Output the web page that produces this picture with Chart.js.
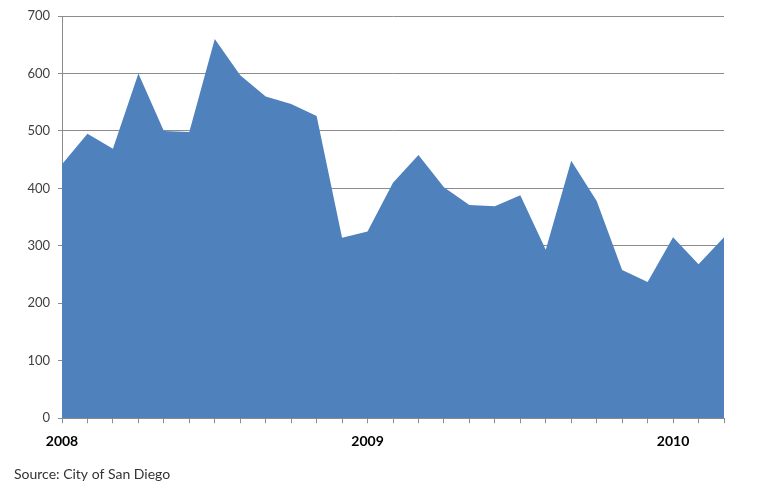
<!DOCTYPE html>
<html>
<head>
<meta charset="utf-8">
<script src="https://cdn.jsdelivr.net/npm/chart.js@4"></script>
<style>
  html, body { margin: 0; padding: 0; background: #fff; }
  #wrap { width: 760px; height: 491px; }
</style>
</head>
<body>
<div id="wrap"><canvas id="chart"></canvas></div>
<script>
// monthly values, Jan 2008 .. Mar 2010
const months = [
  "Jan 2008", "Feb 2008", "Mar 2008", "Apr 2008", "May 2008", "Jun 2008",
  "Jul 2008", "Aug 2008", "Sep 2008", "Oct 2008", "Nov 2008", "Dec 2008",
  "Jan 2009", "Feb 2009", "Mar 2009", "Apr 2009", "May 2009", "Jun 2009",
  "Jul 2009", "Aug 2009", "Sep 2009", "Oct 2009", "Nov 2009", "Dec 2009",
  "Jan 2010", "Feb 2010", "Mar 2010"
];
const values = [
  442, 495, 469, 600, 500, 498, 660, 597, 560, 547, 526, 314,
  325, 410, 458, 402, 371, 369, 388, 293, 448, 378, 258, 237,
  315, 268, 315
];
const yearLabels = ["2008", "2009", "2010"];
const yTicks = [0, 100, 200, 300, 400, 500, 600, 700];

const gridGray = "#8c8c8c";

new Chart(document.getElementById("chart"), {
  type: "line",
  data: {
    labels: months,
    datasets: [{
      data: values,
      backgroundColor: "#4f81bd",
      borderWidth: 0,
      pointRadius: 0,
      tension: 0,
      fill: "origin"
    }]
  },
  options: {
    responsive: true,
    maintainAspectRatio: false,
    animation: false,
    layout: { padding: { top: 16, right: 36, bottom: 8, left: 14 } },
    plugins: {
      legend: { display: false },
      tooltip: { enabled: false },
      title: {
        display: true,
        position: "bottom",
        align: "start",
        text: "Source: City of San Diego",
        color: "#333",
        font: { family: "Lato", size: 14, weight: "normal" },
        padding: { top: 0, bottom: 0 }
      }
    },
    scales: {
      x: {
        type: "category",
        offset: false,
        grid: { drawOnChartArea: false, color: gridGray, tickLength: 5 },
        border: { color: gridGray },
        ticks: {
          autoSkip: false,
          maxRotation: 0,
          padding: 10,
          color: "#000",
          font: { family: "Lato", size: 14, weight: "bold" },
          // only January gets a label: its year
          callback: function (v, i) {
            const year = months[i].slice(4);
            return months[i].startsWith("Jan") && yearLabels.includes(year) ? year : "";
          }
        },
        afterFit: function (s) { s.height = 48; }
      },
      y: {
        min: yTicks[0],
        max: yTicks[yTicks.length - 1],
        afterBuildTicks: function (s) { s.ticks = yTicks.map(v => ({ value: v })); },
        grid: { color: gridGray, tickLength: 4 },
        border: { color: gridGray },
        ticks: {
          padding: 8,
          color: "#404040",
          font: { family: "Lato", size: 13 }
        },
        afterFit: function (s) { s.width = 48; }
      }
    }
  }
});
</script>
</body>
</html>
